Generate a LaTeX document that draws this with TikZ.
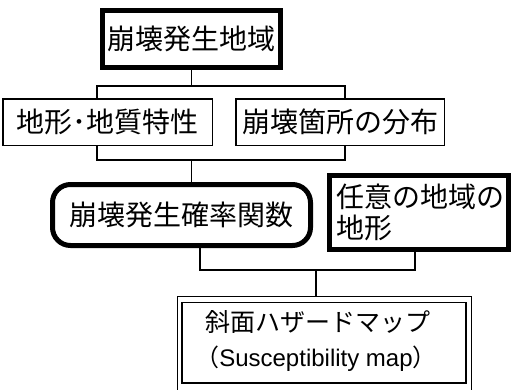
\documentclass[tikz,border=0pt]{standalone}
\usepackage{fontspec}
\setmainfont{Noto Sans CJK JP}
\newfontfamily\latinfont{Liberation Sans}
\begin{document}
\begin{tikzpicture}[x=1pt,y=-1pt,
  thin box/.style={draw,line width=1.5pt,inner sep=0pt,outer sep=0pt,font=\fontsize{28}{31}\selectfont},
  thick box/.style={draw,line width=5pt,inner sep=0pt,outer sep=0pt,font=\fontsize{28}{31}\selectfont},
  label text/.style={inner sep=0pt,outer sep=0pt},
  conn/.style={line width=1.5pt}]
\useasboundingbox (0,0) rectangle (511,389);
\clip (0,0) rectangle (511,389);
\fill[white] (0,0) rectangle (511,389);
% nodes
\node[thick box,minimum width=178pt,minimum height=57pt] (top) at (191.5,39) {崩壊発生地域};
\node[thin box,minimum width=209.5pt,minimum height=46.5pt] (geo) at (107.5,122) {地形･地質特性};
\node[thin box,minimum width=208.5pt,minimum height=46.5pt] (dist) at (340,122) {崩壊箇所の分布};
\node[thick box,rounded corners=18pt,minimum width=258pt,minimum height=61pt] (func) at (181.5,215) {崩壊発生確率関数};
\node[thick box,minimum width=179pt,minimum height=74pt,align=left,text width=166pt] (terr) at (419,212.5) {任意の地域の\\地形};
\node[draw,line width=1.5pt,inner sep=0pt,outer sep=0pt,minimum width=294pt,minimum height=100pt] (outer) at (324.5,346.5) {};
\node[draw,line width=1.5pt,inner sep=0pt,outer sep=0pt,minimum width=284pt,minimum height=80.5pt] (map) at (324,342.5) {};
\node[label text,font=\fontsize{25}{28}\selectfont] (maptitle) at (318,322) {斜面ハザードマップ};
\node[label text,font=\fontsize{24}{28}\selectfont] (mapsub) at (316,359) {（{\latinfont Susceptibility map}）};
% junction coordinates
\coordinate (j1) at (191.5,86);
\coordinate (j1l) at (97,86);
\coordinate (j1r) at (345,86);
\coordinate (j2) at (191.5,160);
\coordinate (j2l) at (97,160);
\coordinate (j2r) at (345,160);
\coordinate (j3) at (316,270);
\coordinate (j3l) at (200,270);
\coordinate (j3r) at (415,270);
% connectors
\draw[conn] (top.south) -- (j1);
\draw[conn] (geo.north -| j1l) -- (j1l) -- (j1r) -- (dist.north -| j1r);
\draw[conn] (geo.south -| j2l) -- (j2l) -- (j2r) -- (dist.south -| j2r);
\draw[conn] (j2) -- (func.north -| j2);
\draw[conn] (func.south -| j3l) -- (j3l) -- (j3r) -- (terr.south -| j3r);
\draw[conn] (j3) -- (outer.north -| j3);
\end{tikzpicture}
\end{document}
